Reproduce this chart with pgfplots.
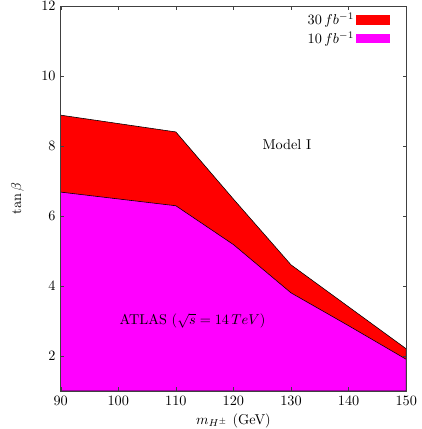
\documentclass[border=0pt]{standalone}
\usepackage{pgfplots}
\pgfplotsset{compat=1.18}
\definecolor{excl30}{RGB}{255,0,0}
\definecolor{excl10}{RGB}{255,0,255}
\begin{document}
\begin{tikzpicture}
\begin{axis}[
  scale only axis, width=242.5pt, height=270pt,
  xmin=90, xmax=150, ymin=1, ymax=12,
  xtick={90,100,...,150}, ytick={2,4,...,12},
  tick align=inside, major tick length=2.5pt,
  axis line style={black!75}, tick style={black!75},
  yticklabel style={inner ysep=1pt},
  xlabel={$m_{H^\pm}$ (GeV)}, ylabel={$\tan\beta$},
  xlabel style={inner ysep=1pt, yshift=-1.3pt},
  ylabel style={inner ysep=7.8pt, yshift=1pt},
  legend plot pos=right, legend cell align=right,
  legend style={draw=none, fill=none, at={(0.965,0.995)}, anchor=north east,
    row sep=1pt, font=\normalsize, nodes={inner sep=1.3pt},
    /tikz/every even column/.append style={column sep=4pt}},
  legend image code/.code={\path[#1,draw=none] (0pt,-3.3pt) rectangle (23.5pt,3.3pt);},
  axis on top,
]
\addplot[fill=excl30, draw=black, line width=0.4pt] coordinates
  {(90,8.88) (110,8.4) (120,6.48) (130,4.6) (140,3.4) (150,2.2)} \closedcycle;
\addplot[fill=excl10, draw=black, line width=0.4pt] coordinates
  {(90,6.68) (110,6.29) (120,5.18) (130,3.8) (140,2.86) (150,1.9)} \closedcycle;
\legend{$30\,fb^{-1}$, $10\,fb^{-1}$}
\node at (axis cs:129.3,8.05) {Model I};
\node at (axis cs:112.9,3.0) {ATLAS ($\sqrt{s}=14\,TeV$)};
\end{axis}
\end{tikzpicture}
\end{document}
